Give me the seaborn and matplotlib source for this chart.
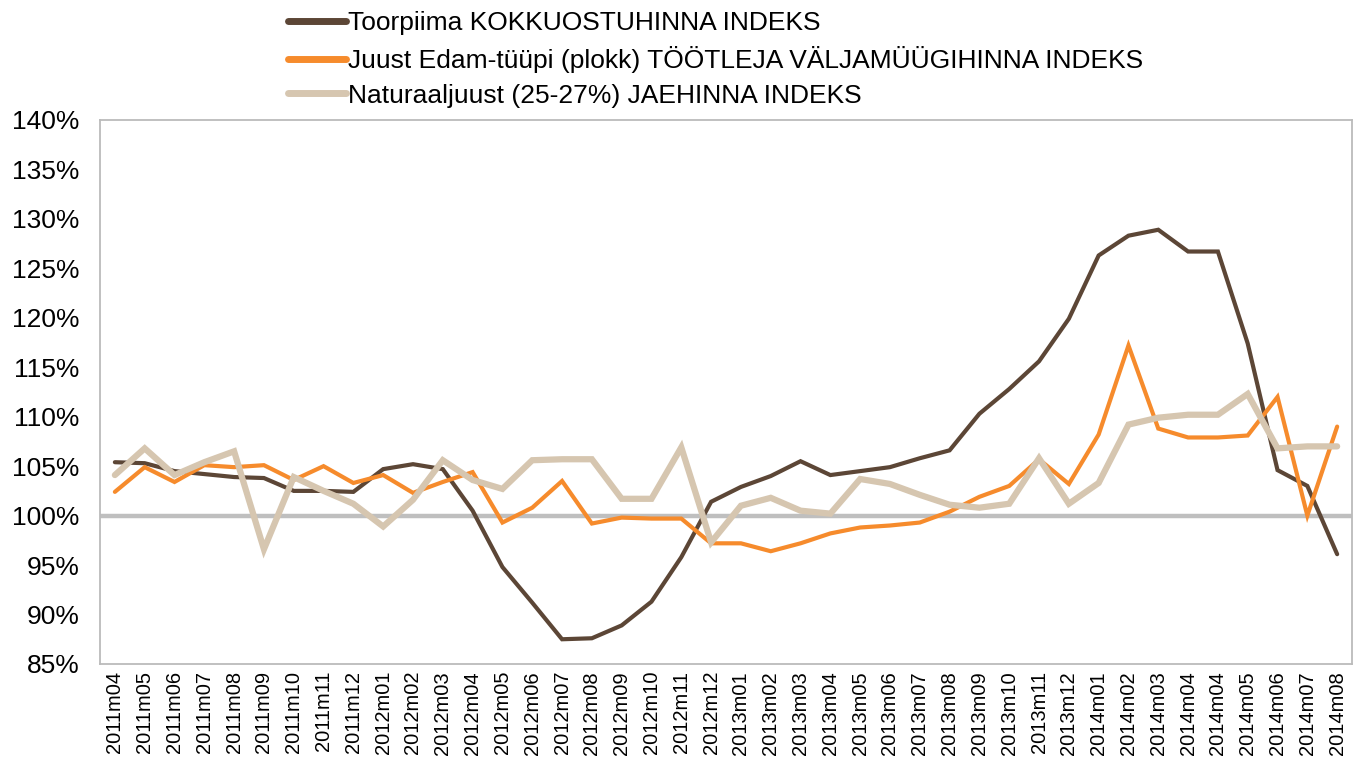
import pandas as pd
import seaborn as sns
import matplotlib.pyplot as plt
import matplotlib.ticker as mticker

# =========================
#  Data (index, % of base)
# =========================

periods = [
    "2011m04", "2011m05", "2011m06", "2011m07", "2011m08", "2011m09",
    "2011m10", "2011m11", "2011m12",
    "2012m01", "2012m02", "2012m03", "2012m04", "2012m05", "2012m06",
    "2012m07", "2012m08", "2012m09", "2012m10", "2012m11", "2012m12",
    "2013m01", "2013m02", "2013m03", "2013m04", "2013m05", "2013m06",
    "2013m07", "2013m08", "2013m09", "2013m10", "2013m11", "2013m12",
    "2014m01", "2014m02", "2014m03", "2014m04", "2014m04", "2014m05",
    "2014m06", "2014m07", "2014m08",
]

toorpiima = [
    105.4, 105.3, 104.5, 104.2, 103.9, 103.8, 102.5, 102.5, 102.4,
    104.7, 105.2, 104.7, 100.5, 94.8, 91.2, 87.5, 87.6, 88.9, 91.3,
    95.8, 101.4, 102.9, 104.0, 105.5, 104.1, 104.5, 104.9, 105.8,
    106.6, 110.3, 112.8, 115.6, 119.9, 126.3, 128.3, 128.9, 126.7,
    126.7, 117.4, 104.6, 103.0, 96.1,
]

edam = [
    102.4, 104.9, 103.4, 105.1, 104.9, 105.1, 103.6, 105.0, 103.3,
    104.1, 102.3, 103.4, 104.4, 99.3, 100.8, 103.5, 99.2, 99.8, 99.7,
    99.7, 97.2, 97.2, 96.4, 97.2, 98.2, 98.8, 99.0, 99.3, 100.4,
    101.9, 103.0, 105.7, 103.2, 108.2, 117.2, 108.8, 107.9, 107.9,
    108.1, 112.0, 100.0, 109.0,
]

naturaaljuust = [
    104.1, 106.8, 104.1, 105.4, 106.5, 96.6, 103.9, 102.5, 101.2,
    98.9, 101.6, 105.6, 103.6, 102.7, 105.6, 105.7, 105.7, 101.7,
    101.7, 106.9, 97.3, 101.0, 101.8, 100.5, 100.2, 103.7, 103.2,
    102.1, 101.1, 100.8, 101.2, 105.8, 101.2, 103.3, 109.2, 109.9,
    110.2, 110.2, 112.3, 106.8, 107.0, 107.0,
]

labels = [
    "Toorpiima KOKKUOSTUHINNA INDEKS",
    "Juust Edam-tüüpi (plokk) TÖÖTLEJA VÄLJAMÜÜGIHINNA INDEKS",
    "Naturaaljuust (25-27%) JAEHINNA INDEKS",
]
colors = ["#5C4636", "#F68B2C", "#D6C6B0"]
widths = [3.0, 3.0, 4.5]

df = pd.DataFrame({
    "idx": list(range(len(periods))) * 3,
    "series": [labels[0]] * len(periods) + [labels[1]] * len(periods) + [labels[2]] * len(periods),
    "value": toorpiima + edam + naturaaljuust,
})

# =========================
#  Plot
# =========================
sns.set_theme(style="white", rc={"text.color": "black", "xtick.color": "black", "ytick.color": "black"})
plt.rcParams["font.family"] = ["Liberation Sans", "DejaVu Sans"]

fig = plt.figure(figsize=(13.62, 7.71), dpi=100)
ax = fig.add_axes([0.0734, 0.1388, 0.9193, 0.7056])

# 100% reference line
ax.axhline(100, color="#BFBFBF", lw=3.2, zorder=1)

sns.lineplot(
    data=df,
    x="idx",
    y="value",
    hue="series",
    hue_order=labels,
    palette=colors,
    ax=ax,
    legend=False,
    zorder=3,
)
for line, w in zip(ax.lines[1:], widths):
    line.set_linewidth(w)
    line.set_solid_joinstyle("miter")

ax.set_xlim(-0.5, len(periods) - 0.5)
ax.set_ylim(85, 140)
ax.yaxis.set_major_locator(mticker.MultipleLocator(5))
ax.yaxis.set_major_formatter(mticker.FuncFormatter(lambda v, p: f"{v:.0f}%"))
ax.set_xticks(range(len(periods)))
ax.set_xticklabels(periods, rotation=90, fontsize=14.5)
ax.tick_params(axis="y", labelsize=19, pad=15, length=0)
ax.tick_params(axis="x", pad=5, length=0)
ax.set_xlabel("")
ax.set_ylabel("")
for s in ax.spines.values():
    s.set_color("#BBBBBB")
    s.set_linewidth(1.3)

handles = [plt.Line2D([], [], color=c, lw=5, solid_capstyle="round") for c in colors]
fig.legend(
    handles,
    labels,
    loc="upper left",
    bbox_to_anchor=(0.1938, 1.016),
    frameon=False,
    fontsize=19,
    handlelength=2.2,
    handletextpad=0.1,
    labelspacing=0.4,
)

fig.savefig("out.png", dpi=100)
plt.close()
